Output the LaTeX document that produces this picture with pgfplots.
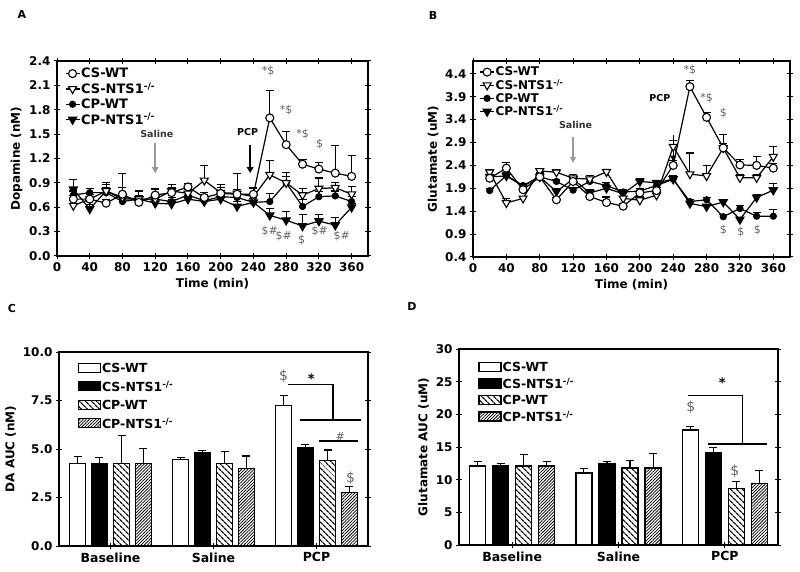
\documentclass[border=0pt]{standalone}
\usepackage{fontspec}
\setmainfont{DejaVu Sans}
\usepackage{pgfplots}
\pgfplotsset{compat=1.18}
\usetikzlibrary{arrows.meta,patterns.meta}
\definecolor{anngray}{gray}{0.38}
\definecolor{arrgray}{gray}{0.6}
\pgfplotsset{
  common/.style={
    scale only axis,
    /pgf/number format/assume math mode=true,
    tick align=center,
    major tick length=6pt,
    tick style={line width=1pt,black},
    axis line style={line width=1.3pt},
    ticklabel style={font=\fontsize{12}{13}\selectfont\bfseries},
    label style={font=\fontsize{12}{14}\selectfont\bfseries},
    error bars/y dir=plus,
    error bars/y explicit,
    error bars/error bar style={line width=1.1pt,solid,black},
    error bars/error mark options={rotate=90,mark size=4pt,line width=1.1pt,solid,black},
    legend cell align=left,
  },
  linepanel/.style={
    common,
    xmin=0,xmax=380,xtick={0,40,...,360},
    xlabel={Time (min)},
    yticklabel style={/pgf/number format/fixed,/pgf/number format/fixed zerofill,/pgf/number format/precision=1},
    legend image code/.code={\draw[mark repeat=2,mark phase=2,##1] plot coordinates {(0pt,0pt) (7pt,0pt) (14pt,0pt)};},
    reverse legend,
  },
  barpanel/.style={
    common,
    xmin=-0.5,xmax=2.5,xtick={0,1,2},xticklabels={Baseline,Saline,PCP},
    xtick pos=left,ymin=0,
    xticklabel style={font=\fontsize{12.5}{14}\selectfont\bfseries},
    legend image code/.code={\draw[##1] (0pt,-4pt) rectangle (22pt,5pt);},
  },
  csWT/.style={black,line width=1.2pt,mark=*,mark size=4pt,mark options={solid,fill=white,line width=1.1pt}},
  csNTS/.style={black,line width=1.2pt,mark=triangle*,mark size=4.6pt,mark options={solid,fill=white,rotate=180,line width=1.1pt}},
  cpWT/.style={black,line width=1.2pt,mark=*,mark size=3pt,mark options={solid,fill=black}},
  cpNTS/.style={black,line width=1.2pt,mark=triangle*,mark size=4.6pt,mark options={solid,fill=black,rotate=180}},
  bCSWT/.style={ybar,bar width=16pt,bar shift=0pt,draw=black,line width=1.3pt,fill=white},
  bCSNTS/.style={ybar,bar width=16pt,bar shift=0pt,draw=black,line width=1.3pt,fill=black},
  bCPWT/.style={ybar,bar width=16pt,bar shift=0pt,draw=black,line width=1.3pt,pattern={Lines[angle=-45,distance=4pt,line width=1.3pt]}},
  bCPNTS/.style={ybar,bar width=16pt,bar shift=0pt,draw=black,line width=1.3pt,pattern={Lines[angle=45,distance=2.2pt,line width=0.75pt]}},
}
\newcommand{\ann}{\fontsize{11}{12}\selectfont}
\begin{document}
\begin{tikzpicture}
\useasboundingbox (0,0) rectangle (800pt,571pt);
\node[font=\fontsize{11}{12}\selectfont\bfseries] at (22pt,557pt) {A};
\node[font=\fontsize{11}{12}\selectfont\bfseries] at (433pt,556pt) {B};
\node[font=\fontsize{11}{12}\selectfont\bfseries] at (12pt,263pt) {C};
\node[font=\fontsize{11}{12}\selectfont\bfseries] at (412pt,265pt) {D};

% ---------------- Panel A
\begin{axis}[linepanel,at={(57pt,315pt)},anchor=south west,width=311pt,height=195pt,
  ymin=0,ymax=2.4,ytick={0,0.3,...,2.41},ylabel={Dopamine (nM)},
  legend style={draw=none,fill=none,at={(0.025,0.97)},anchor=north west,inner sep=0pt,row sep=1.5pt,
    font=\fontsize{13}{13}\selectfont\bfseries,nodes={inner sep=1pt}}]
\addplot[cpNTS] coordinates {(20,.82)+-(0,.12) (40,.58)+-(0,.05) (60,.80)+-(0,.11) (80,.70)+-(0,.06) (100,.70)+-(0,.05) (120,.65)+-(0,.06) (140,.64)+-(0,.05) (160,.70)+-(0,.05) (180,.67)+-(0,.05) (200,.70)+-(0,.05) (220,.61)+-(0,.06) (240,.66)+-(0,.05) (260,.50)+-(0,.08) (280,.44)+-(0,.11) (300,.37)+-(0,.14) (320,.43)+-(0,.08) (340,.38)+-(0,.09) (360,.60)+-(0,.05)};
\addlegendentry{CP-NTS1\textsuperscript{-/-}}
\addplot[cpWT] coordinates {(20,.75)+-(0,.05) (40,.78)+-(0,.05) (60,.78)+-(0,.06) (80,.67)+-(0,.05) (100,.70)+-(0,.04) (120,.70)+-(0,.05) (140,.67)+-(0,.05) (160,.75)+-(0,.04) (180,.68)+-(0,.05) (200,.73)+-(0,.05) (220,.72)+-(0,.05) (240,.66)+-(0,.05) (260,.67)+-(0,.10) (280,.90)+-(0,.08) (300,.61)+-(0,.08) (320,.73)+-(0,.06) (340,.74)+-(0,.06) (360,.67)+-(0,.06)};
\addlegendentry{CP-WT}
\addplot[csNTS] coordinates {(20,.62)+-(0,.06) (40,.70)+-(0,.08) (60,.80)+-(0,.08) (80,.72)+-(0,.29) (100,.70)+-(0,.10) (120,.70)+-(0,.12) (140,.80)+-(0,.08) (160,.77)+-(0,.05) (180,.93)+-(0,.18) (200,.78)+-(0,.10) (220,.77)+-(0,.24) (240,.73)+-(0,.10) (260,1.00)+-(0,.18) (280,.90)+-(0,.13) (300,.75)+-(0,.08) (320,.83)+-(0,.13) (340,.84)+-(0,.07) (360,.76)+-(0,.10)};
\addlegendentry{CS-NTS1\textsuperscript{-/-}}
\addplot[csWT] coordinates {(20,.70)+-(0,.05) (40,.70)+-(0,.06) (60,.65)+-(0,.05) (80,.76)+-(0,.08) (100,.66)+-(0,.04) (120,.75)+-(0,.08) (140,.78)+-(0,.06) (160,.85)+-(0,.04) (180,.72)+-(0,.06) (200,.77)+-(0,.07) (220,.76)+-(0,.06) (240,.76)+-(0,.08) (260,1.70)+-(0,.34) (280,1.37)+-(0,.16) (300,1.13)+-(0,.06) (320,1.07)+-(0,.08) (340,1.02)+-(0,.34) (360,.98)+-(0,.26)};
\addlegendentry{CS-WT}
\draw[arrgray,line width=2pt,-{Triangle[width=6.5pt,length=6pt]}] (axis cs:120,1.39) -- (axis cs:120,1.02);
\draw[black,line width=2pt,-{Triangle[width=6.5pt,length=6pt]}] (axis cs:236,1.36) -- (axis cs:236,1.02);
\node[font=\fontsize{9.5}{10}\selectfont\bfseries,text=black!80] at (axis cs:122,1.50) {Saline};
\node[font=\fontsize{9.5}{10}\selectfont\bfseries] at (axis cs:233,1.52) {PCP};
\node[font=\ann,text=anngray] at (axis cs:258,2.27) {*\$};
\node[font=\ann,text=anngray] at (axis cs:280,1.80) {*\$};
\node[font=\ann,text=anngray] at (axis cs:300,1.50) {*\$};
\node[font=\ann,text=anngray] at (axis cs:321,1.38) {\$};
\node[font=\ann,text=anngray] at (axis cs:260,0.31) {\$\#};
\node[font=\ann,text=anngray] at (axis cs:277,0.24) {\$\#};
\node[font=\ann,text=anngray] at (axis cs:299,0.20) {\$};
\node[font=\ann,text=anngray] at (axis cs:321,0.31) {\$\#};
\node[font=\ann,text=anngray] at (axis cs:348,0.25) {\$\#};
\end{axis}

% ---------------- Panel B
\begin{axis}[linepanel,at={(473pt,314pt)},anchor=south west,width=317pt,height=196pt,
  ymin=0.4,ymax=4.68,ytick={0.4,0.9,...,4.41},ylabel={Glutamate (uM)},
  legend style={draw=none,fill=none,at={(0.02,0.975)},anchor=north west,inner sep=0pt,row sep=0.5pt,
    font=\fontsize{12}{12}\selectfont\bfseries,nodes={inner sep=0.8pt}}]
\addplot[cpNTS] coordinates {(20,2.15)+-(0,.05) (40,2.17)+-(0,.08) (60,1.95)+-(0,.05) (80,2.15)+-(0,.10) (100,1.83)+-(0,.06) (120,2.10)+-(0,.10) (140,1.80)+-(0,.08) (160,1.90)+-(0,.06) (180,1.78)+-(0,.08) (200,2.05)+-(0,.06) (220,2.02)+-(0,.06) (240,2.10)+-(0,.08) (260,1.57)+-(0,.05) (280,1.50)+-(0,.05) (300,1.60)+-(0,.06) (320,1.22)+-(0,.05) (340,1.70)+-(0,.06) (360,1.86)+-(0,.14)};
\addlegendentry{CP-NTS1\textsuperscript{-/-}}
\addplot[cpWT] coordinates {(20,1.85)+-(0,.04) (40,2.18)+-(0,.06) (60,1.96)+-(0,.05) (80,2.15)+-(0,.06) (100,2.05)+-(0,.05) (120,1.86)+-(0,.06) (140,2.05)+-(0,.08) (160,1.96)+-(0,.06) (180,1.82)+-(0,.05) (200,1.84)+-(0,.06) (220,1.96)+-(0,.06) (240,2.10)+-(0,.06) (260,1.61)+-(0,.05) (280,1.65)+-(0,.05) (300,1.28)+-(0,.05) (320,1.46)+-(0,.06) (340,1.29)+-(0,.08) (360,1.29)+-(0,.15)};
\addlegendentry{CP-WT}
\addplot[csNTS] coordinates {(20,2.25)+-(0,.05) (40,1.58)+-(0,.10) (60,1.68)+-(0,.05) (80,2.28)+-(0,.06) (100,2.25)+-(0,.05) (120,2.12)+-(0,.08) (140,2.10)+-(0,.08) (160,2.26)+-(0,.06) (180,1.68)+-(0,.10) (200,1.64)+-(0,.07) (220,1.75)+-(0,.05) (240,2.81)+-(0,.13) (260,2.21)+-(0,.46) (280,2.17)+-(0,.22) (300,2.78)+-(0,.29) (320,2.13)+-(0,.08) (340,2.13)+-(0,.06) (360,2.59)+-(0,.22)};
\addlegendentry{CS-NTS1\textsuperscript{-/-}}
\addplot[csWT] coordinates {(20,2.12)+-(0,.05) (40,2.34)+-(0,.13) (60,1.87)+-(0,.05) (80,2.15)+-(0,.08) (100,1.65)+-(0,.05) (120,2.05)+-(0,.08) (140,1.72)+-(0,.05) (160,1.59)+-(0,.12) (180,1.51)+-(0,.05) (200,1.80)+-(0,.06) (220,1.85)+-(0,.06) (240,2.40)+-(0,.10) (260,4.12)+-(0,.13) (280,3.45)+-(0,.11) (300,2.78)+-(0,.10) (320,2.41)+-(0,.11) (340,2.40)+-(0,.19) (360,2.34)+-(0,.10)};
\addlegendentry{CS-WT}
\draw[arrgray,line width=1.4pt,-{Triangle[width=5.5pt,length=6pt]}] (axis cs:120,3.03) -- (axis cs:120,2.45);
\draw[black,line width=1.4pt,-{Triangle[width=5.5pt,length=6pt]}] (axis cs:240,3.06) -- (axis cs:240,2.48);
\node[font=\fontsize{9.5}{10}\selectfont\bfseries,text=black!80] at (axis cs:123,3.28) {Saline};
\node[font=\fontsize{9.5}{10}\selectfont\bfseries] at (axis cs:224,3.87) {PCP};
\node[font=\ann,text=anngray] at (axis cs:260,4.49) {*\$};
\node[font=\ann,text=anngray] at (axis cs:280,3.87) {*\$};
\node[font=\ann,text=anngray] at (axis cs:300,3.54) {\$};
\node[font=\ann,text=anngray] at (axis cs:300,0.98) {\$};
\node[font=\ann,text=anngray] at (axis cs:321,0.95) {\$};
\node[font=\ann,text=anngray] at (axis cs:341,0.98) {\$};
\end{axis}

% ---------------- Panel C  (bar offsets: 22 px = 0.2136 units)
\begin{axis}[barpanel,at={(59pt,25pt)},anchor=south west,width=309pt,height=194pt,
  ymax=10,ytick={0,2.5,...,10.01},ylabel={DA AUC (nM)},
  yticklabel style={/pgf/number format/fixed,/pgf/number format/fixed zerofill,/pgf/number format/precision=1},
  legend style={draw=none,fill=none,at={(0.06,0.95)},anchor=north west,inner sep=0pt,row sep=5pt,
    font=\fontsize{12.5}{13}\selectfont\bfseries,nodes={inner sep=1pt}}]
\addplot[bCSWT] coordinates {(-0.32,4.25)+-(0,0.35) (0.68,4.45)+-(0,0.1) (1.68,7.25)+-(0,0.5)};
\addlegendentry{CS-WT}
\addplot[bCSNTS] coordinates {(-0.107,4.25)+-(0,0.32) (0.893,4.8)+-(0,0.14) (1.893,5.05)+-(0,0.2)};
\addlegendentry{CS-NTS1\textsuperscript{-/-}}
\addplot[bCPWT] coordinates {(0.107,4.25)+-(0,1.45) (1.107,4.25)+-(0,0.6) (2.107,4.4)+-(0,0.55)};
\addlegendentry{CP-WT}
\addplot[bCPNTS] coordinates {(0.32,4.25)+-(0,0.78) (1.32,4.0)+-(0,0.64) (2.32,2.75)+-(0,0.31)};
\addlegendentry{CP-NTS1\textsuperscript{-/-}}
\draw[line width=1.4pt] (axis cs:1.728,8.33) -- (axis cs:2.16,8.33) -- (axis cs:2.16,6.49);
\draw[line width=1.4pt] (axis cs:1.84,6.49) -- (axis cs:2.43,6.49);
\draw[line width=1.4pt] (axis cs:2.025,5.41) -- (axis cs:2.40,5.41);
\node[font=\fontsize{14}{15}\selectfont,text=anngray] at (axis cs:1.68,8.76) {\$};
\node[font=\fontsize{13}{14}\selectfont\bfseries] at (axis cs:1.95,8.6) {*};
\node[font=\fontsize{11}{12}\selectfont,text=anngray] at (axis cs:2.23,5.66) {\#};
\node[font=\fontsize{14}{15}\selectfont,text=anngray] at (axis cs:2.33,3.49) {\$};
\end{axis}

% ---------------- Panel D  (bar offsets: 23 px = 0.2163 units)
\begin{axis}[barpanel,at={(459pt,26pt)},anchor=south west,width=319pt,height=196pt,
  ymax=30,ytick={0,5,...,30},ylabel={Glutamate AUC (uM)},
  legend style={draw=none,fill=none,at={(0.06,0.94)},anchor=north west,inner sep=0pt,row sep=3pt,
    font=\fontsize{12.5}{13}\selectfont\bfseries,nodes={inner sep=1pt}}]
\addplot[bCSWT] coordinates {(-0.325,12.1)+-(0,0.7) (0.675,11.0)+-(0,0.66) (1.675,17.6)+-(0,0.5)};
\addlegendentry{CS-WT}
\addplot[bCSNTS] coordinates {(-0.108,12.1)+-(0,0.35) (0.892,12.4)+-(0,0.4) (1.892,14.1)+-(0,0.8)};
\addlegendentry{CS-NTS1\textsuperscript{-/-}}
\addplot[bCPWT] coordinates {(0.108,12.1)+-(0,1.7) (1.108,11.8)+-(0,1.15) (2.108,8.7)+-(0,1.0)};
\addlegendentry{CP-WT}
\addplot[bCPNTS] coordinates {(0.325,12.1)+-(0,0.7) (1.325,11.8)+-(0,2.2) (2.325,9.45)+-(0,1.95)};
\addlegendentry{CP-NTS1\textsuperscript{-/-}}
\draw[line width=1.4pt] (axis cs:1.658,22.9) -- (axis cs:2.168,22.9) -- (axis cs:2.168,15.44);
\draw[line width=1.4pt] (axis cs:1.843,15.44) -- (axis cs:2.394,15.44);
\node[font=\fontsize{14}{15}\selectfont,text=anngray] at (axis cs:1.68,21.1) {\$};
\node[font=\fontsize{13}{14}\selectfont\bfseries] at (axis cs:1.975,24.8) {*};
\node[font=\fontsize{14}{15}\selectfont,text=anngray] at (axis cs:2.095,11.25) {\$};
\end{axis}
\end{tikzpicture}
\end{document}
